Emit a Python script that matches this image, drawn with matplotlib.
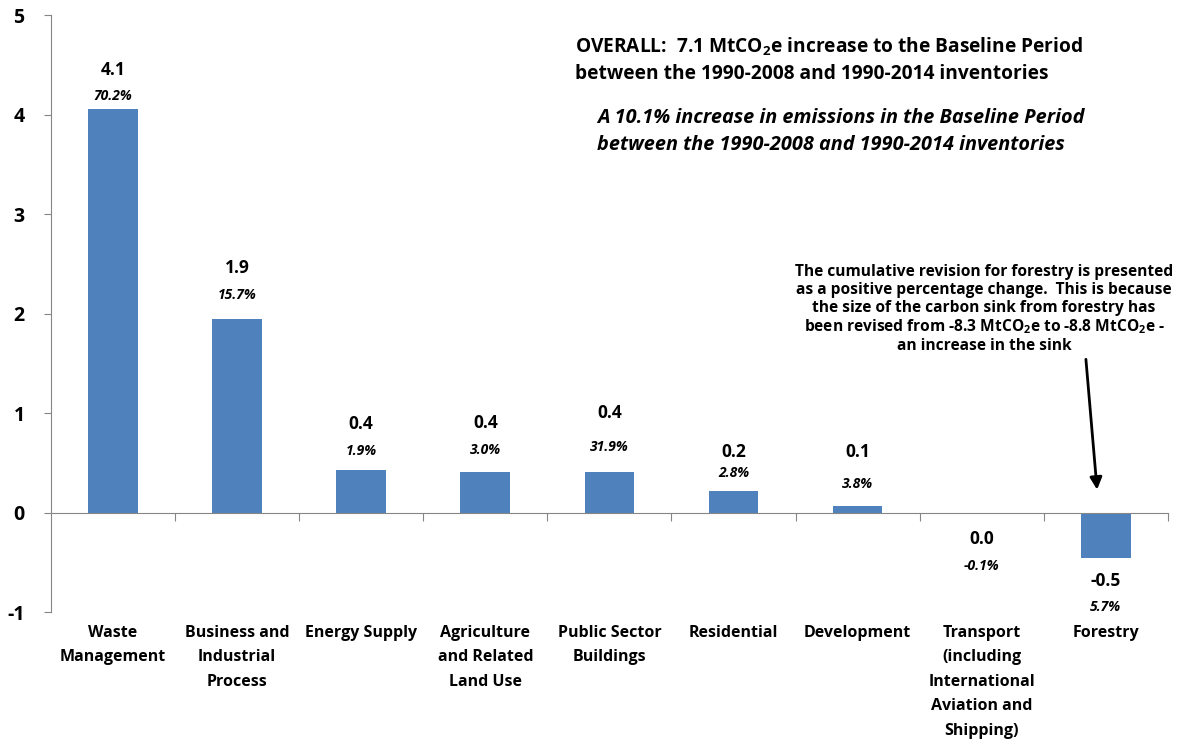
import matplotlib
matplotlib.use('Agg')
import matplotlib.pyplot as plt
import numpy as np

plt.rcParams['font.family'] = ['Open Sans', 'DejaVu Sans']
plt.rcParams['mathtext.fontset'] = 'custom'
plt.rcParams['mathtext.rm'] = 'Open Sans:bold'
plt.rcParams['mathtext.it'] = 'Open Sans:bold:italic'

# sector revisions, MtCO2e (1990-2014 vs 1990-2008 inventories)
sectors = ['Waste\nManagement', 'Business and\nIndustrial\nProcess', 'Energy Supply',
           'Agriculture\nand Related\nLand Use', 'Public Sector\nBuildings', 'Residential',
           'Development', 'Transport\n(including\nInternational\nAviation and\nShipping)',
           'Forestry']
change = [4.06, 1.94, 0.43, 0.41, 0.41, 0.22, 0.07, -0.004, -0.46]
pct = ['70.2%', '15.7%', '1.9%', '3.0%', '31.9%', '2.8%', '3.8%', '-0.1%', '5.7%']

# label offsets from bar end, in pixels (value label, percent label)
val_off = [39, 51, 46, 49, 59, 39, 54, -26, -23]
pct_off = [13, 24, 19, 22, 25, 18, 22, -53, -49]

W, H = 1188, 747
fig = plt.figure(figsize=(W / 100, H / 100), dpi=100)
ax = fig.add_axes([0.0429, 0.1807, 0.9401, 0.7992])

x = np.arange(len(sectors))
ax.bar(x, change, width=0.4, color='#4F81BD', zorder=2)

for i, v in enumerate(change):
    s = f'{v:.1f}'
    if s == '-0.0':
        s = '0.0'
    ax.annotate(s, (x[i], v), xytext=(0, val_off[i]), textcoords='offset pixels',
                ha='center', va='center', fontsize=12.5, fontweight='bold')
    ax.annotate(pct[i], (x[i], v), xytext=(0, pct_off[i]), textcoords='offset pixels',
                ha='center', va='center', fontsize=10, fontweight='bold', style='italic')

for i, name in enumerate(sectors):
    ax.text(x[i], -1.13, name, ha='center', va='top', fontsize=11.5,
            fontweight='bold', linespacing=1.7)

ax.set_xlim(-0.5, 8.5)
ax.set_ylim(-1, 5)
ax.set_yticks(range(-1, 6))
ax.set_yticklabels([str(t) for t in range(-1, 6)], fontsize=14, fontweight='bold')
ax.set_xticks(np.arange(0.5, 9, 1))
ax.set_xticklabels([])

for side in ['top', 'right']:
    ax.spines[side].set_visible(False)
ax.spines['bottom'].set_position(('data', 0))
ax.spines['bottom'].set_color('#868686')
ax.spines['left'].set_color('#868686')
ax.tick_params(axis='y', length=5, color='#868686', pad=14)
ax.tick_params(axis='x', direction='out', length=6, color='#868686')


def px_text(px, py, s, **kw):
    # place text by pixel position measured from the top-left corner
    fig.text(px / W, 1 - py / H, s, **kw)


px_text(575, 47, r'OVERALL:  7.1 MtCO$_2$e increase to the Baseline Period',
        fontsize=13.8, fontweight='bold', ha='left', va='center')
px_text(575, 74, 'between the 1990-2008 and 1990-2014 inventories',
        fontsize=13.8, fontweight='bold', ha='left', va='center')
px_text(597, 118, 'A 10.1% increase in emissions in the Baseline Period',
        fontsize=14.3, fontweight='bold', style='italic', ha='left', va='center')
px_text(597, 145, 'between the 1990-2008 and 1990-2014 inventories',
        fontsize=14.3, fontweight='bold', style='italic', ha='left', va='center')

note = ('The cumulative revision for forestry is presented\n'
        'as a positive percentage change.  This is because\n'
        'the size of the carbon sink from forestry has\n'
        r'been revised from -8.3 MtCO$_2$e to -8.8 MtCO$_2$e -' '\n'
        'an increase in the sink')
px_text(984, 309, note, ha='center', va='center',
        fontsize=11.2, fontweight='bold', linespacing=1.15)

ax.annotate('', xy=(7.93, 0.23), xytext=(7.84, 1.54),
            arrowprops=dict(arrowstyle='-|>', color='black', lw=2, mutation_scale=18,
                            shrinkA=0, shrinkB=0))

fig.savefig('out.png', dpi=100)
